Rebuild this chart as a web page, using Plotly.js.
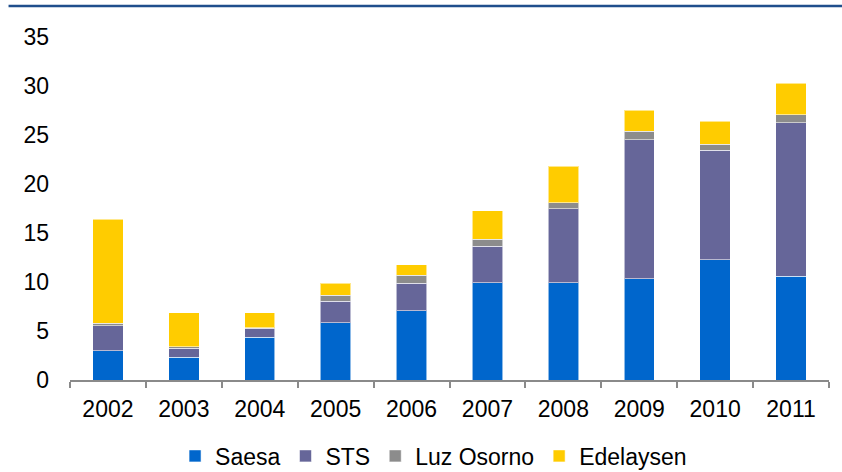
<!DOCTYPE html>
<html>
<head>
<meta charset="utf-8">
<script src="https://cdn.plot.ly/plotly-3.0.1.min.js"></script>
<style>
html,body{margin:0;padding:0;background:#fff;}
#chart{width:842px;height:472px;}
</style>
</head>
<body>
<div id="chart"></div>
<script>
var years = ['2002','2003','2004','2005','2006','2007','2008','2009','2010','2011'];
var saesa     = [3.0, 2.3, 4.35, 5.85, 7.05, 9.9, 9.9, 10.35, 12.25, 10.6];
var sts       = [2.55, 0.95, 0.95, 2.2, 2.8, 3.75, 7.55, 14.15, 11.2, 15.65];
var luzOsorno = [0.25, 0.15, 0.05, 0.6, 0.85, 0.7, 0.65, 0.9, 0.6, 0.8];
var edelaysen = [10.6, 3.45, 1.5, 1.2, 1.05, 2.9, 3.7, 2.15, 2.35, 3.25];
var yTicks = [0, 5, 10, 15, 20, 25, 30, 35];

var seriesNames = ['Saesa', 'STS', 'Luz Osorno', 'Edelaysen'];
var seriesValues = [saesa, sts, luzOsorno, edelaysen];
var seriesColors = ['#0066CC', '#666699', '#8C8C8C', '#FFCC00'];

var traces = seriesNames.map(function(n, i){
  return {
    type: 'bar',
    name: n,
    x: years,
    y: seriesValues[i],
    marker: {color: seriesColors[i], line: {color: 'rgba(255,255,255,0.55)', width: 1}},
    hoverinfo: 'x+y+name'
  };
});

var layout = {
  width: 842, height: 472,
  margin: {l: 69.5, r: 13, t: 37, b: 92, pad: 0, autoexpand: false},
  paper_bgcolor: '#fff', plot_bgcolor: '#fff',
  font: {family: '"Liberation Sans", Arial, sans-serif', size: 23, color: '#000'},
  barmode: 'stack',
  bargap: 0.6,
  showlegend: true,
  legend: {orientation: 'h', xref: 'paper', x: 0.479, xanchor: 'center',
           yref: 'container', y: 0.034, yanchor: 'middle',
           font: {size: 23, color: '#000'}, itemwidth: 30, traceorder: 'normal',
           borderwidth: 0, bgcolor: 'rgba(0,0,0,0)',
           itemclick: false, itemdoubleclick: false},
  xaxis: {
    type: 'category',
    showline: true, linecolor: '#8A8A8A', linewidth: 2,
    ticks: 'outside', ticklen: 6, tickcolor: '#8A8A8A', tickwidth: 2,
    tickson: 'boundaries',
    showgrid: false, zeroline: false,
    tickfont: {size: 23, color: '#000'},
    ticklabelstandoff: 7
  },
  yaxis: {
    range: [0, 35],
    tickvals: yTicks,
    ticktext: yTicks.map(String),
    showline: false, showgrid: false, zeroline: false,
    ticks: '',
    tickfont: {size: 23, color: '#000'},
    ticklabelstandoff: 20
  },
  shapes: [{
    type: 'line', xref: 'paper', yref: 'paper',
    x0: (8 - 69.5) / 759.5, x1: (842 - 69.5) / 759.5,
    y0: (380 - 6) / 343, y1: (380 - 6) / 343,
    line: {color: '#1F4E8C', width: 2.5}
  }]
};

Plotly.newPlot('chart', traces, layout, {displayModeBar: false, staticPlot: true});
</script>
</body>
</html>
